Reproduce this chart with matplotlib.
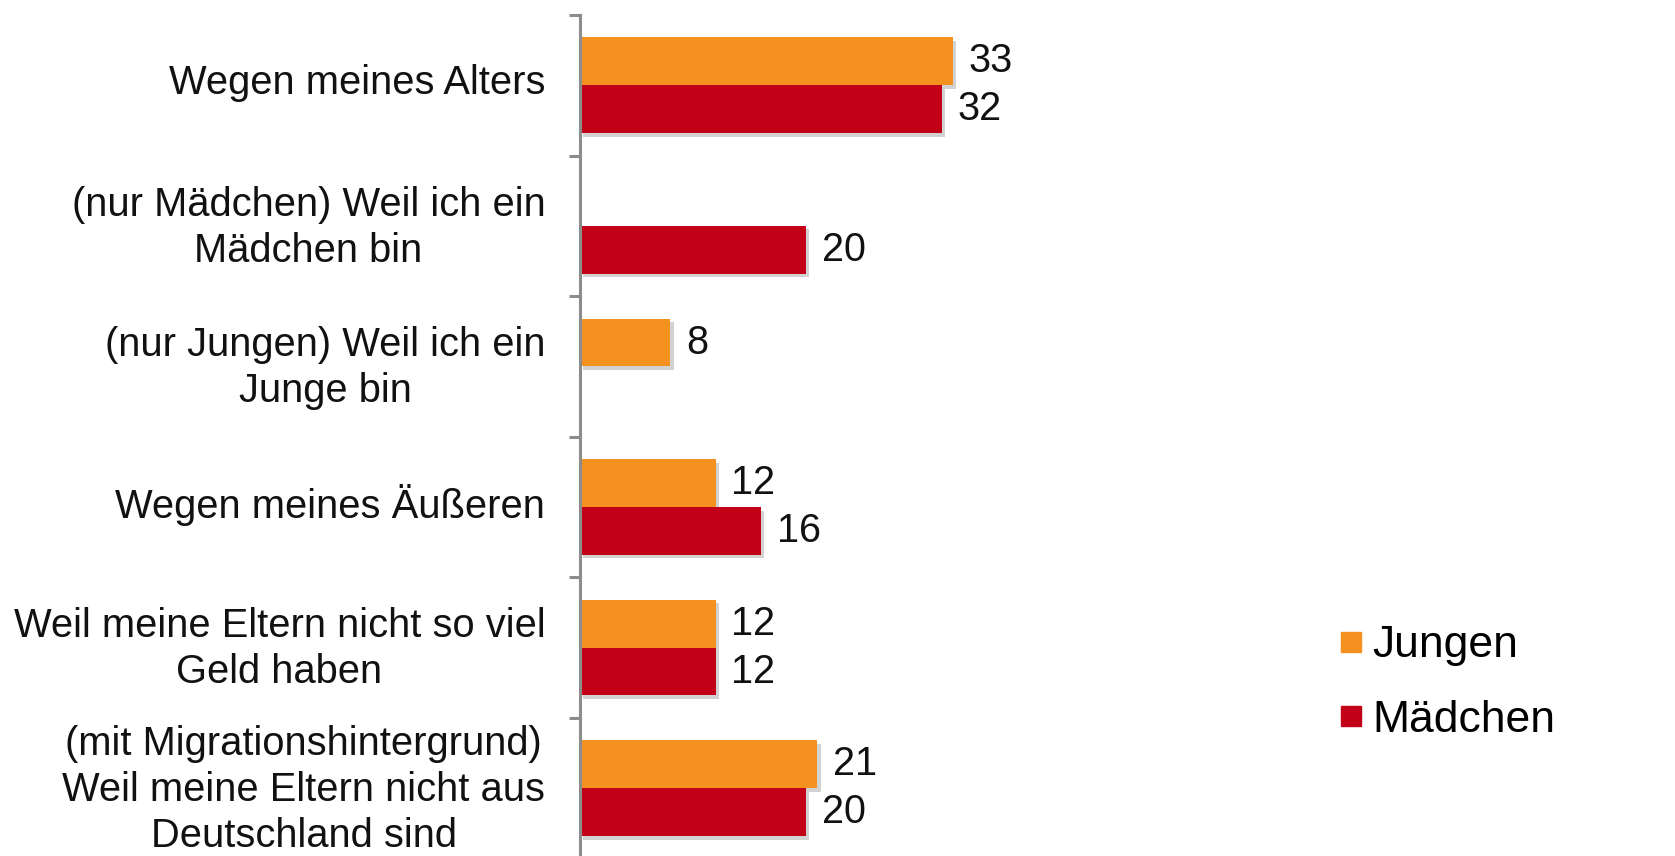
import numpy as np
import matplotlib
matplotlib.use("Agg")
import matplotlib.pyplot as plt
import matplotlib.patheffects as pe
from matplotlib.lines import Line2D

plt.rcParams['font.family'] = ['Liberation Sans', 'DejaVu Sans']

# data
categories = [
    "Wegen meines Alters",
    "(nur Mädchen) Weil ich ein\nMädchen bin",
    "(nur Jungen) Weil ich ein\nJunge bin",
    "Wegen meines Äußeren",
    "Weil meine Eltern nicht so viel\nGeld haben",
    "(mit Migrationshintergrund)\nWeil meine Eltern nicht aus\nDeutschland sind",
]
jungen = [33, np.nan, 8, 12, 12, 21]
maedchen = [32, 20, np.nan, 16, 12, 20]
series_names = ["Jungen", "Mädchen"]

orange = "#F5921F"
red = "#C20017"
axis_gray = "#8C8C8C"

fig = plt.figure(figsize=(16.75, 8.56), dpi=100)
ax = fig.add_axes([580 / 1675, -0.003, 565 / 1675, 0.9855])

y = np.arange(len(categories))
h = 0.34
shadow = [pe.SimplePatchShadow(offset=(2.5, -2.5), shadow_rgbFace='gray', alpha=0.35), pe.Normal()]

for vals, off, col in [(jungen, -h / 2, orange), (maedchen, h / 2, red)]:
    for yi, v in zip(y, vals):
        if np.isnan(v):
            continue
        b = ax.barh(yi + off, v, height=h, color=col, edgecolor='none')
        b[0].set_path_effects(shadow)
        ax.text(v + 1.4, yi + off, f"{v:g}", va='center', ha='left', fontsize=28.5, color='#111111')

ax.set_xlim(0, 50)
ax.set_ylim(len(categories) - 0.5, -0.5)

# labels sit a touch above the group centre, like the original
ax.set_yticks(y - 0.045)
ax.set_yticklabels(categories, fontsize=28.7, color='#111111', multialignment='center', linespacing=1.27)
ax.set_yticks(np.arange(-0.5, len(categories), 1.0), minor=True)
ax.tick_params(axis='y', which='major', length=0, pad=25)
ax.tick_params(axis='y', which='minor', length=8, width=2.2, color=axis_gray, direction='out')

ax.xaxis.set_visible(False)
for s in ['top', 'right', 'bottom']:
    ax.spines[s].set_visible(False)
ax.spines['left'].set_color(axis_gray)
ax.spines['left'].set_linewidth(2.2)

handles = [Line2D([], [], marker='s', linestyle='none', markersize=15, color=c) for c in (orange, red)]
fig.legend(handles, series_names, loc='center left', bbox_to_anchor=(1293 / 1675, 1 - 683 / 856),
           frameon=False, fontsize=32, handletextpad=0.08, labelspacing=0.75, handlelength=0.8)

fig.savefig("out.png", dpi=100)
